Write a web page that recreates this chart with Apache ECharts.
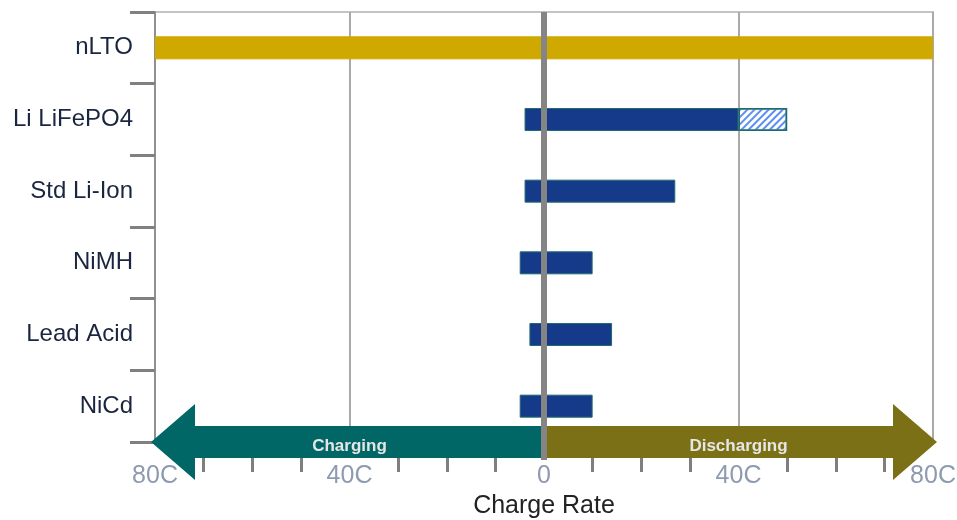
<!DOCTYPE html>
<html>
<head>
<meta charset="utf-8">
<script src="https://cdn.jsdelivr.net/npm/echarts@6/dist/echarts.min.js"></script>
<style>
  html, body { margin: 0; padding: 0; background: #fff; }
  #rate-bar { width: 957px; height: 520px; }
</style>
</head>
<body>
<div id="rate-bar"></div>
<script>
// battery types, top to bottom
const categories = ['nLTO', 'Li LiFePO4', 'Std Li-Ion', 'NiMH', 'Lead Acid', 'NiCd']
// max charge rate (C), drawn to the left of 0
const chargeRate = [-80, -4, -4, -5, -3, -5]
// max continuous discharge rate (C)
const dischargeRate = [80, 40, 27, 10, 14, 10]
// extra pulse discharge on top of the continuous rate (hatched)
const pulseRate = [0, 10, 0, 0, 0, 0]
// arrow band below the bars
const arrowLabels = ['Charging', 'Discharging']
const arrowEnds = [-80, 80]
const arrowTextAt = [-40, 40]

const font = 'Liberation Sans, Arial, sans-serif'
const blue = '#163a8a'
const gold = '#cfa800'
const barEdge = '#1f6b6e'
const arrowColors = ['#006766', '#7b7015']

const chart = echarts.init(document.getElementById('rate-bar'))
const last = categories.length - 1

const styled = list => list.map((v, i) => categories[i] === 'nLTO'
  ? { value: v, itemStyle: { color: gold, borderColor: gold } }
  : v)

function renderArrow(params, api) {
  const start = api.coord([api.value(0), last])
  const end = api.coord([api.value(1), last])
  const band = api.size([0, 1])[1]
  const cy = start[1] + band / 2
  const dir = Math.sign(end[0] - start[0])
  const tipX = end[0] + dir * 4
  const baseX = tipX - dir * 44
  const shaft = 16
  const head = 38
  const textPos = api.coord([api.value(2), last])
  return {
    type: 'group',
    children: [
      {
        type: 'polygon',
        shape: {
          points: [
            [start[0], cy - shaft], [baseX, cy - shaft], [baseX, cy - head],
            [tipX, cy], [baseX, cy + head], [baseX, cy + shaft], [start[0], cy + shaft]
          ]
        },
        style: { fill: arrowColors[params.dataIndex] }
      },
      {
        type: 'text',
        x: textPos[0],
        y: cy + 4,
        style: {
          text: arrowLabels[params.dataIndex],
          fill: '#e6e6e6',
          font: 'bold 17px ' + font,
          align: 'center',
          verticalAlign: 'middle'
        }
      }
    ]
  }
}

function renderZero(params, api) {
  const band = api.size([0, 1])[1]
  const top = api.coord([0, 0])[1] - band / 2
  const bottom = api.coord([0, last])[1] + band / 2 + 18
  const x = api.coord([0, 0])[0]
  return {
    type: 'line',
    shape: { x1: x, y1: top, x2: x, y2: bottom },
    style: { stroke: '#858585', lineWidth: 6 }
  }
}

const option = {
  animation: false,
  textStyle: { fontFamily: font },
  grid: {
    left: 155,
    right: 24,
    top: 12,
    bottom: 78,
    outerBoundsMode: 'none',
    containLabel: false,
    show: true,
    borderColor: '#c4c4c4',
    borderWidth: 2
  },
  xAxis: {
    type: 'value',
    min: -80,
    max: 80,
    interval: 40,
    name: 'Charge Rate',
    nameLocation: 'middle',
    nameGap: 50,
    nameTextStyle: { fontSize: 25, color: '#222' },
    axisLine: { show: false },
    axisTick: { show: false },
    minorTick: {
      show: true,
      splitNumber: 4,
      length: 30,
      lineStyle: { color: '#7f7f7f', width: 3 }
    },
    axisLabel: {
      margin: 22,
      fontSize: 25,
      color: '#8e9ab0',
      formatter: v => v === 0 ? '0' : Math.abs(v) + 'C'
    },
    splitLine: {
      show: true,
      lineStyle: { color: '#a9a9a9', width: 2 }
    }
  },
  yAxis: {
    type: 'category',
    inverse: true,
    data: categories,
    axisLine: { show: true, onZero: false, lineStyle: { color: '#909090', width: 2 } },
    axisTick: { show: true, length: 25, lineStyle: { color: '#808080', width: 3 } },
    axisLabel: { margin: 22, fontSize: 24, color: '#1a2540' }
  },
  series: [
    {
      name: 'Charge',
      type: 'bar',
      stack: 'rate',
      barWidth: 23,
      data: styled(chargeRate),
      itemStyle: { color: blue, borderColor: barEdge, borderWidth: 1 }
    },
    {
      name: 'Discharge',
      type: 'bar',
      stack: 'rate',
      barWidth: 23,
      data: styled(dischargeRate),
      itemStyle: { color: blue, borderColor: barEdge, borderWidth: 1 }
    },
    {
      name: 'Pulse',
      type: 'bar',
      stack: 'rate',
      barWidth: 23,
      data: pulseRate.map(v => v || '-'),
      itemStyle: {
        color: '#ffffff',
        borderColor: barEdge,
        borderWidth: 1.5,
        decal: {
          symbol: 'rect',
          symbolSize: 1,
          dashArrayX: [1, 0],
          dashArrayY: [2, 3],
          rotation: -Math.PI / 4,
          color: '#5b8ff0'
        }
      }
    },
    {
      name: 'Arrows',
      type: 'custom',
      z: 5,
      renderItem: renderArrow,
      encode: { x: [0, 1, 2], y: 3 },
      data: arrowEnds.map((end, i) => [0, end, arrowTextAt[i], last])
    },
    {
      name: 'Zero',
      type: 'custom',
      z: 10,
      renderItem: renderZero,
      encode: { x: 0, y: 1 },
      data: [[0, 0]]
    }
  ]
}

chart.setOption(option)
</script>
</body>
</html>
